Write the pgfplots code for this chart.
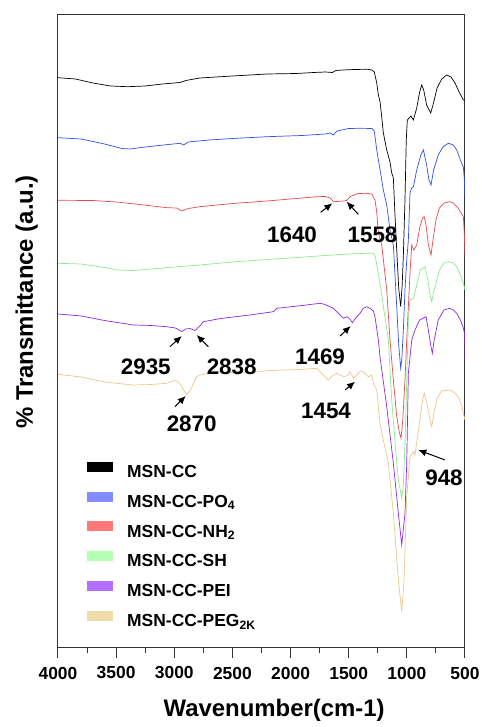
\documentclass[border=0pt]{standalone}
\usepackage{fontspec}
\setmainfont{Liberation Sans}
\usepackage{pgfplots}
\pgfplotsset{compat=1.18}
\usetikzlibrary{arrows.meta}
\definecolor{cblue}{RGB}{50,80,230}
\definecolor{cred}{RGB}{230,75,75}
\definecolor{cgreen}{RGB}{140,235,140}
\definecolor{cpurple}{RGB}{140,40,230}
\definecolor{ctan}{RGB}{235,200,140}
\definecolor{fblue}{RGB}{128,140,255}
\definecolor{fred}{RGB}{255,120,120}
\definecolor{fgreen}{RGB}{180,255,180}
\definecolor{fpurple}{RGB}{180,110,255}
\definecolor{ftan}{RGB}{240,220,170}
\begin{document}
\begin{tikzpicture}
\useasboundingbox (-58bp,-80bp) rectangle (424bp,647bp);
\begin{axis}[
  at={(0,0)}, anchor=south west,
  width=407bp, height=632bp, scale only axis,
  x dir=reverse, xmin=500, xmax=4000,
  ymin=-647, ymax=-15,
  xtick={500,1000,...,4000}, minor x tick num=1,
  ytick=\empty,
  xtick pos=bottom, tick align=outside,
  major tick length=11bp, minor tick length=6bp,
  axis line style={black!80, line width=1bp},
  every tick/.style={black!80, line width=1bp},
  /pgf/number format/assume math mode=true,
  /pgf/number format/1000 sep={},
  xticklabel style={font=\bfseries\fontsize{17.5}{20}\selectfont, anchor=center, yshift=-15bp},
  xlabel={Wavenumber(cm-1)},
  ylabel={\% Transmittance (a.u.)},
  label style={font=\bfseries\fontsize{24}{28}\selectfont},
  xlabel style={at={(axis description cs:0.531,-0.0997)}, anchor=center},
  ylabel style={at={(axis description cs:-0.077,0.546)}, anchor=center},
  legend image code/.code={\fill[#1, draw=none] (0bp,1.3bp) rectangle (26bp,11.3bp);},
  legend style={at={(axis description cs:0.0713,0.2935)}, anchor=north west,
    draw=none, fill=none, inner sep=0pt, row sep=10bp, column sep=14bp,
    font=\bfseries\fontsize{17.5}{20}\selectfont,
    nodes={inner sep=0pt, text height=13bp, text depth=4bp}},
  legend cell align=left,
  every axis plot/.append style={line width=0.7bp, forget plot},
]
% MSN-CC
\addplot[black] coordinates {
(4000,-77.7)(3850,-79)(3700,-83)(3550,-86)(3400,-86.7)(3250,-86)(3100,-84)(3000,-83)
(2950,-82.5)(2900,-80.5)(2780,-78)(2500,-76)(2200,-74)(1950,-73.5)(1800,-72.5)(1700,-72)
(1640,-72.5)(1610,-70.5)(1550,-70)(1450,-69.5)(1340,-69.3)(1300,-70)(1280,-72)(1259,-83)
(1245,-95)(1230,-102)(1216,-117)(1202,-133)(1173,-150)(1145,-162)(1130,-173)(1116,-178)
(1102,-215)(1087,-250)(1070,-288)(1053,-306.7)(1040,-285)(1030,-255)(1016,-200)(1005,-140)
(996,-120)(980,-118)(965,-116)(944,-120)(915,-108)(890,-92)(872,-85)(855,-90)(830,-105)
(795,-113)(775,-105)(740,-88)(700,-79)(657,-75)(620,-77)(586,-83)(550,-92)(514,-100)(500,-100)};
% PO4
\addplot[cblue] coordinates {
(4000,-137.7)(3800,-139)(3600,-144)(3450,-148.5)(3380,-149)(3250,-147)(3050,-144.5)
(2950,-143.3)(2920,-145)(2880,-142)(2700,-140)(2500,-138.5)(2200,-136.7)(1900,-135.5)
(1700,-134)(1660,-133)(1632,-135)(1600,-131)(1500,-128.5)(1400,-128.3)(1300,-128.5)
(1280,-131)(1259,-150)(1230,-170)(1202,-190)(1173,-205)(1145,-230)(1116,-245)(1087,-306.7)
(1070,-345)(1053,-368.3)(1044,-360)(1030,-330)(1016,-290)(1001,-260)(987,-240)(973,-193)
(958,-188)(944,-187)(915,-170)(880,-155)(857,-150)(830,-165)(810,-180)(792,-185)(770,-170)
(730,-155)(690,-147)(643,-143.3)(600,-145)(571,-150)(540,-160)(514,-167)(505,-180)(500,-197)};
% NH2
\addplot[cred] coordinates {
(4000,-200.3)(3700,-200.5)(3500,-202)(3300,-204.5)(3063,-207.7)(2980,-208)(2936,-211)
(2880,-208.5)(2779,-206.7)(2500,-203.5)(2203,-201)(2000,-199)(1775,-196.7)(1700,-196.5)
(1660,-198)(1632,-201.7)(1600,-201.5)(1546,-201)(1517,-200.5)(1489,-196.7)(1420,-193.5)
(1345,-193.3)(1302,-194)(1274,-200)(1259,-212)(1245,-233)(1216,-245)(1173,-290)(1145,-340)
(1116,-380)(1087,-416.7)(1065,-432)(1050,-438.3)(1035,-420)(1016,-380)(1001,-340)(973,-273)
(958,-245)(940,-250)(915,-245)(890,-228)(865,-218)(851,-216.7)(835,-225)(815,-245)(792,-255)
(775,-240)(750,-220)(720,-208)(680,-203)(629,-201.7)(600,-203)(560,-208)(514,-216.7)(505,-235)(500,-257)};
% SH
\addplot[cgreen] coordinates {
(4000,-263.3)(3800,-264)(3600,-267.5)(3495,-270)(3352,-270.5)(3200,-269)(3000,-267)
(2779,-265)(2500,-262)(2200,-259.5)(1919,-257.3)(1700,-255.5)(1500,-254)(1345,-253.3)
(1290,-253.3)(1274,-255)(1231,-283)(1159,-340)(1130,-400)(1100,-445)(1073,-480)(1044,-498.3)
(1030,-485)(1015,-440)(1001,-380)(987,-320)(973,-300)(944,-298.3)(915,-285)(885,-270)
(843,-266.7)(820,-280)(800,-295)(786,-301.7)(765,-290)(720,-270)(680,-263)(643,-261.7)
(600,-263)(571,-266.7)(540,-275)(514,-283)(500,-290)};
% PEI
\addplot[cpurple] coordinates {
(4000,-314)(3800,-316)(3600,-320.5)(3352,-325)(3200,-325.5)(3065,-326.7)(2990,-328)
(2936,-331.5)(2900,-329)(2865,-328.5)(2822,-330.5)(2780,-326)(2750,-321.7)(2600,-318.5)
(2349,-315)(2148,-311.7)(2119,-308.3)(1900,-305.5)(1747,-303.3)(1718,-304)(1661,-306.7)
(1632,-308.3)(1546,-318.3)(1517,-316.7)(1489,-319)(1469,-322.7)(1440,-318)(1403,-313.3)
(1374,-308.3)(1345,-306.7)(1317,-308.3)(1288,-311)(1274,-316.7)(1245,-340)(1231,-356.7)
(1173,-406.7)(1116,-463.3)(1073,-513.3)(1044,-545)(1016,-513.3)(1001,-463.3)(987,-373.3)
(958,-340)(930,-330)(890,-320)(835,-316.7)(815,-330)(795,-345)(781,-353.3)(765,-340)
(730,-320)(680,-310)(635,-308.3)(600,-310)(571,-313.3)(540,-320)(514,-328)(502,-335)(500,-360)};
% PEG2K
\addplot[ctan] coordinates {
(4000,-374.3)(3800,-377)(3600,-382)(3352,-385)(3200,-384.5)(3065,-383.3)(2991,-380)
(2950,-384)(2920,-390)(2893,-394.5)(2860,-390)(2822,-380)(2807,-376.7)(2778,-375)
(2635,-371.7)(2492,-372.7)(2263,-371.7)(2203,-370.7)(1919,-369.5)(1775,-368.3)(1718,-375)
(1675,-380)(1640,-376)(1603,-373.3)(1546,-376.5)(1517,-376)(1503,-375)(1489,-371.7)
(1460,-378)(1446,-376.7)(1403,-371.7)(1374,-371.7)(1345,-375)(1331,-376.7)(1302,-375)
(1288,-383.3)(1259,-390)(1231,-423.3)(1202,-440)(1159,-463.3)(1116,-513.3)(1073,-580)
(1044,-611.7)(1024,-580)(1001,-496.7)(973,-456.7)(944,-451.7)(930,-455)(900,-430)(865,-400)
(851,-393.3)(825,-405)(800,-420)(786,-426.7)(770,-415)(740,-398)(700,-391)(629,-390)
(590,-393)(557,-396.7)(530,-405)(500,-420)};
\addlegendimage{fill=black}\addlegendentry{MSN-CC}
\addlegendimage{fill=fblue}\addlegendentry{MSN-CC-PO\textsubscript{4}}
\addlegendimage{fill=fred}\addlegendentry{MSN-CC-NH\textsubscript{2}}
\addlegendimage{fill=fgreen}\addlegendentry{MSN-CC-SH}
\addlegendimage{fill=fpurple}\addlegendentry{MSN-CC-PEI}
\addlegendimage{fill=ftan}\addlegendentry{MSN-CC-PEG\textsubscript{2K}}
% annotations
\tikzset{ann/.style={font=\bfseries\fontsize{22.5}{26}\selectfont, anchor=center, inner sep=0pt},
         arr/.style={-{Latex[length=8bp,width=7bp]}, line width=1bp, black}}
\node[ann] at (axis cs:1987.6,-235) {1640};
\draw[arr] (axis cs:1740.8,-212.3) -- (axis cs:1641,-203.3);
\node[ann] at (axis cs:1295.3,-235) {1558};
\draw[arr] (axis cs:1417.4,-214.3) -- (axis cs:1517.2,-201.7);
\node[ann] at (axis cs:3245,-366.7) {2935};
\draw[arr] (axis cs:3036.8,-346.7) -- (axis cs:2936.2,-336);
\node[ann] at (axis cs:2506.2,-366.7) {2838};
\draw[arr] (axis cs:2707.4,-346.7) -- (axis cs:2807.2,-335);
\node[ann] at (axis cs:1746.8,-356.7) {1469};
\draw[arr] (axis cs:1574.8,-336) -- (axis cs:1482.8,-326);
\node[ann] at (axis cs:2850.2,-424) {2870};
\draw[arr] (axis cs:2993.8,-406.7) -- (axis cs:2901.8,-396);
\node[ann] at (axis cs:1695.2,-411) {1454};
\draw[arr] (axis cs:1531.8,-390) -- (axis cs:1445.8,-381.7);
\node[ann] at (axis cs:680.4,-477.7) {948};
\draw[arr] (axis cs:671.8,-460) -- (axis cs:901.4,-450);
\end{axis}
\end{tikzpicture}
\end{document}
